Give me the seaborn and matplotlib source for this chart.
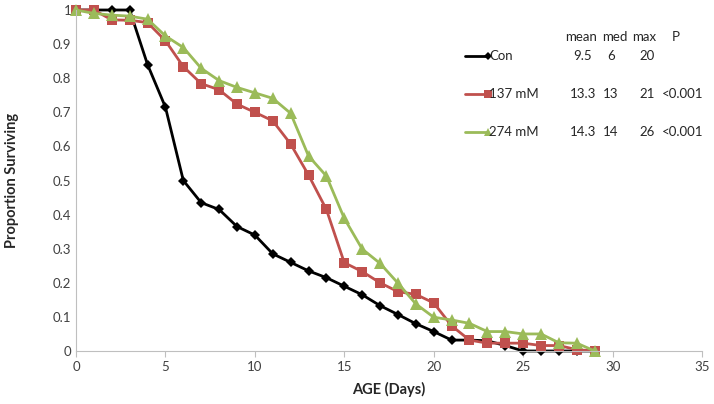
import pandas as pd
import numpy as np
import matplotlib
matplotlib.use("Agg")
import matplotlib.pyplot as plt
import seaborn as sns

# survival data (day -> proportion alive)
days = list(range(0, 30))
con = [1, 1, 1, 1, 0.84, 0.715, 0.50, 0.435, 0.415, 0.365, 0.34, 0.285, 0.26, 0.235, 0.215,
       0.19, 0.165, 0.133, 0.107, 0.08, 0.057, 0.032, 0.032, 0.03, 0.016, 0, 0, 0, 0, 0]
mm137 = [1, 1, 0.971, 0.97, 0.963, 0.91, 0.834, 0.784, 0.766, 0.724, 0.70, 0.675, 0.607, 0.516,
         0.415, 0.259, 0.233, 0.20, 0.174, 0.166, 0.141, 0.074, 0.032, 0.023, 0.023, 0.023,
         0.016, 0.016, 0.004, 0]
mm274 = [1, 0.99, 0.985, 0.982, 0.973, 0.924, 0.89, 0.829, 0.793, 0.773, 0.757, 0.741, 0.697,
         0.572, 0.513, 0.389, 0.299, 0.257, 0.199, 0.138, 0.099, 0.091, 0.081, 0.057, 0.057,
         0.05, 0.05, 0.024, 0.023, 0]

groups = ["Con", "137 mM", "274 mM"]
stats_header = ["mean", "med", "max", "P"]
stats_rows = [["9.5", "6", "20", ""],
              ["13.3", "13", "21", "<0.001"],
              ["14.3", "14", "26", "<0.001"]]

df = pd.DataFrame({
    "day": days * 3,
    "surv": con + mm137 + mm274,
    "group": [g for g in groups for _ in days],
})

sns.set_style("white")
plt.rcParams["font.family"] = ["Lato", "DejaVu Sans"]

palette = {"Con": "#000000", "137 mM": "#C0504D", "274 mM": "#9BBB59"}
markers = {"Con": "D", "137 mM": "s", "274 mM": "^"}
msizes = {"Con": 5.5, "137 mM": 7.5, "274 mM": 8}

fig = plt.figure(figsize=(7.14, 4.04), dpi=100)
ax = fig.add_axes([76 / 714, 1 - 351 / 404, 626 / 714, 341 / 404])

for g in groups:
    sub = df[df["group"] == g]
    sns.lineplot(data=sub, x="day", y="surv", color=palette[g], marker=markers[g],
                 markersize=msizes[g], markeredgewidth=0, linewidth=2, ax=ax,
                 label=None, legend=False, clip_on=False)

ax.set_xlim(0, 35)
ax.set_ylim(0, 1)
ax.set_xticks(np.arange(0, 36, 5))
ax.set_yticks(np.round(np.arange(0, 1.01, 0.1), 1))
ax.set_yticklabels(["0"] + [f"{v:.1f}" for v in np.arange(0.1, 1.0, 0.1)] + ["1"])
ax.tick_params(axis="both", labelsize=9.5, colors="#404040")
ax.tick_params(axis="x", length=4, color="#bfbfbf", direction="out", bottom=True)
ax.tick_params(axis="y", length=0)
for s in ["top", "right"]:
    ax.spines[s].set_visible(False)
for s in ["left", "bottom"]:
    ax.spines[s].set_color("#bfbfbf")
ax.set_xlabel("AGE (Days)", fontsize=10.5, fontweight="bold", labelpad=6)
ax.set_ylabel("Proportion Surviving", fontsize=10.5, fontweight="bold", labelpad=24)

# legend with stats table drawn in figure pixel coords
def fx(px):
    return px / 714

def fy(py):
    return 1 - py / 404

header_x = [581, 615, 644, 676]
value_x = [583, 611, 647, 683]
fig_fs = 9.5
for j, h in enumerate(stats_header):
    fig.text(fx(header_x[j]), fy(37), h, fontsize=fig_fs, ha="center", va="center",
             color="#262626")
row_y = [56, 94, 132]
for i, g in enumerate(groups):
    y = fy(row_y[i])
    fig.add_artist(plt.Line2D([fx(465), fx(488)], [y, y], color=palette[g], linewidth=2,
                              marker=markers[g], markevery=[1], markersize=msizes[g] * 0.8,
                              markeredgewidth=0, transform=fig.transFigure))
    fig.text(fx(489), y, g, fontsize=fig_fs, ha="left", va="center", color="#262626")
    for j, v in enumerate(stats_rows[i]):
        fig.text(fx(value_x[j]), y, v, fontsize=fig_fs, ha="center", va="center",
                 color="#262626")

fig.savefig("out.png", dpi=100)
